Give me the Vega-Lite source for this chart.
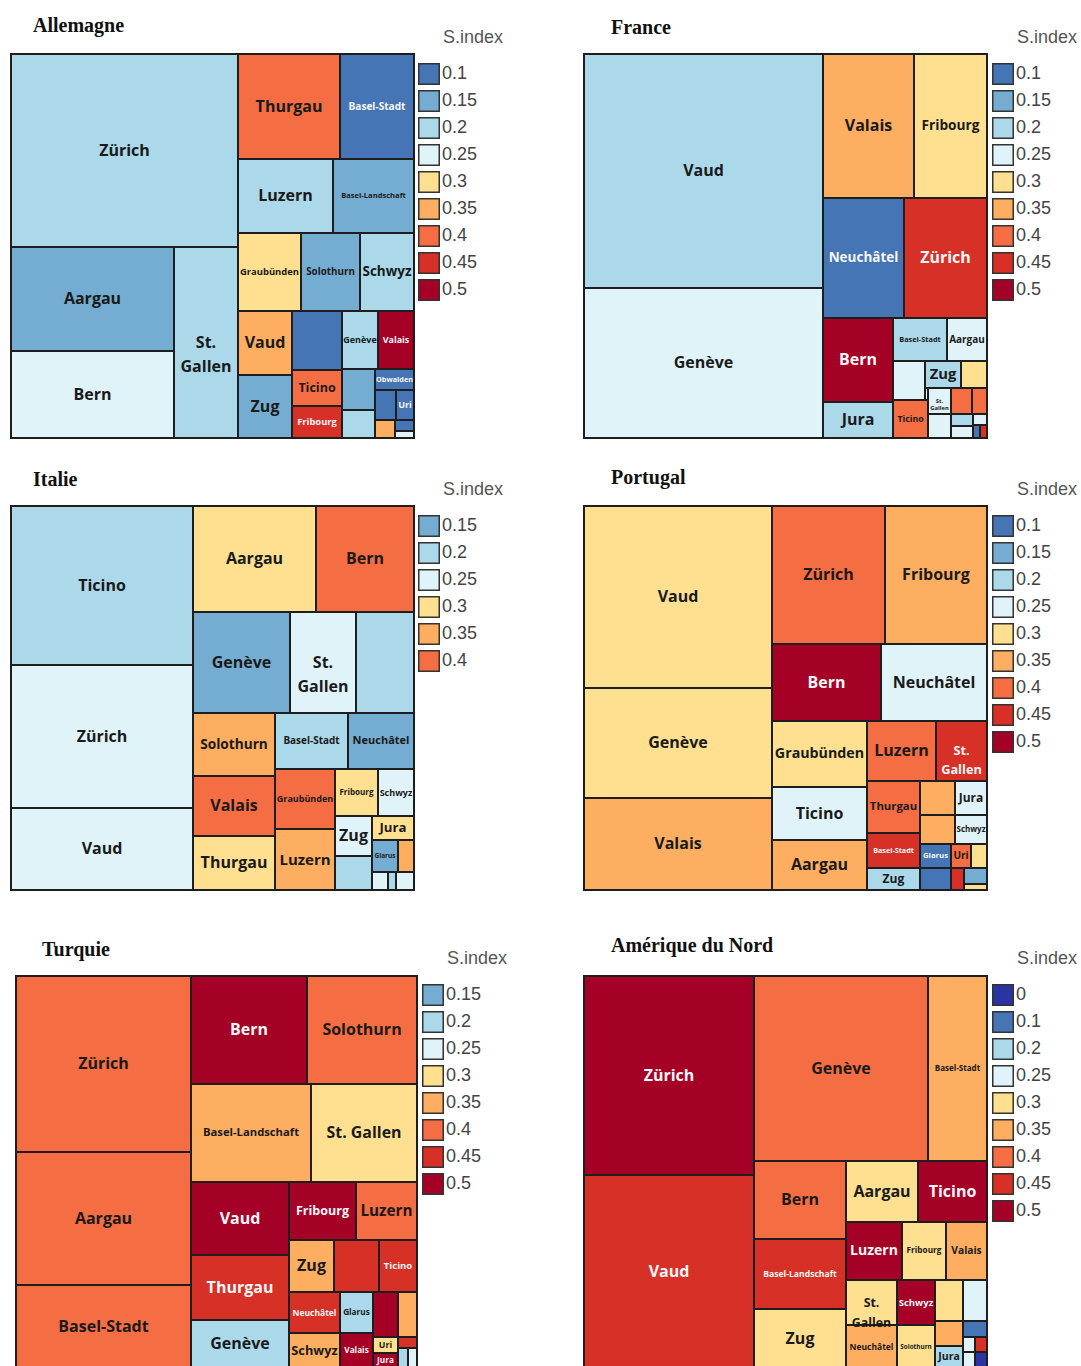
{
"$schema": "https://vega.github.io/schema/vega-lite/v6.json",
"padding": {"left": 10, "top": 16, "right": 5, "bottom": 0},
"datasets": {"tm": [
{"p":"A","n":"Zürich","x0":0,"x1":227,"y0":0,"y1":193,"s":"0.2"},
{"p":"A","n":"Aargau","x0":0,"x1":163,"y0":193,"y1":297,"s":"0.15"},
{"p":"A","n":"Bern","x0":0,"x1":163,"y0":297,"y1":384,"s":"0.25"},
{"p":"A","n":"St.\nGallen","x0":163,"x1":227,"y0":193,"y1":384,"s":"0.2"},
{"p":"A","n":"Thurgau","x0":227,"x1":329,"y0":0,"y1":105,"s":"0.4"},
{"p":"A","n":"Basel-Stadt","x0":329,"x1":403,"y0":0,"y1":105,"s":"0.1"},
{"p":"A","n":"Luzern","x0":227,"x1":322,"y0":105,"y1":179,"s":"0.2"},
{"p":"A","n":"Basel-Landschaft","x0":322,"x1":403,"y0":105,"y1":179,"s":"0.15"},
{"p":"A","n":"Graubünden","x0":227,"x1":290,"y0":179,"y1":257,"s":"0.3"},
{"p":"A","n":"Solothurn","x0":290,"x1":349,"y0":179,"y1":257,"s":"0.15"},
{"p":"A","n":"Schwyz","x0":349,"x1":403,"y0":179,"y1":257,"s":"0.2"},
{"p":"A","n":"Vaud","x0":227,"x1":281,"y0":257,"y1":321,"s":"0.35"},
{"p":"A","n":"Zug","x0":227,"x1":281,"y0":321,"y1":384,"s":"0.15"},
{"p":"A","n":"","x0":281,"x1":331,"y0":257,"y1":316,"s":"0.1"},
{"p":"A","n":"Ticino","x0":281,"x1":331,"y0":316,"y1":352,"s":"0.4"},
{"p":"A","n":"Fribourg","x0":281,"x1":331,"y0":352,"y1":384,"s":"0.45"},
{"p":"A","n":"Genève","x0":331,"x1":367,"y0":257,"y1":315,"s":"0.2"},
{"p":"A","n":"Valais","x0":367,"x1":403,"y0":257,"y1":315,"s":"0.5"},
{"p":"A","n":"","x0":331,"x1":364,"y0":315,"y1":356,"s":"0.15"},
{"p":"A","n":"","x0":331,"x1":364,"y0":356,"y1":384,"s":"0.2"},
{"p":"A","n":"Obwalden","x0":364,"x1":403,"y0":315,"y1":336,"s":"0.1"},
{"p":"A","n":"","x0":364,"x1":385,"y0":336,"y1":366,"s":"0.1"},
{"p":"A","n":"Uri","x0":385,"x1":403,"y0":336,"y1":366,"s":"0.1"},
{"p":"A","n":"","x0":364,"x1":384,"y0":366,"y1":384,"s":"0.35"},
{"p":"A","n":"","x0":384,"x1":403,"y0":366,"y1":377,"s":"0.1"},
{"p":"A","n":"","x0":384,"x1":403,"y0":377,"y1":384,"s":"0.25"},

{"p":"F","n":"Vaud","x0":0,"x1":239,"y0":0,"y1":234,"s":"0.2"},
{"p":"F","n":"Genève","x0":0,"x1":239,"y0":234,"y1":384,"s":"0.25"},
{"p":"F","n":"Valais","x0":239,"x1":330,"y0":0,"y1":144,"s":"0.35"},
{"p":"F","n":"Fribourg","x0":330,"x1":403,"y0":0,"y1":144,"s":"0.3"},
{"p":"F","n":"Neuchâtel","x0":239,"x1":320,"y0":144,"y1":264,"s":"0.1"},
{"p":"F","n":"Zürich","x0":320,"x1":403,"y0":144,"y1":264,"s":"0.45"},
{"p":"F","n":"Bern","x0":239,"x1":309,"y0":264,"y1":348,"s":"0.5"},
{"p":"F","n":"Jura","x0":239,"x1":309,"y0":348,"y1":384,"s":"0.2"},
{"p":"F","n":"Basel-Stadt","x0":309,"x1":363,"y0":264,"y1":307,"s":"0.2"},
{"p":"F","n":"Aargau","x0":363,"x1":403,"y0":264,"y1":307,"s":"0.25"},
{"p":"F","n":"","x0":309,"x1":341,"y0":307,"y1":346,"s":"0.25"},
{"p":"F","n":"Zug","x0":341,"x1":377,"y0":307,"y1":334,"s":"0.2"},
{"p":"F","n":"","x0":377,"x1":403,"y0":307,"y1":334,"s":"0.3"},
{"p":"F","n":"Ticino","x0":309,"x1":344,"y0":346,"y1":384,"s":"0.4"},
{"p":"F","n":"St.\nGallen","x0":344,"x1":367,"y0":334,"y1":360,"s":"0.25"},
{"p":"F","n":"","x0":344,"x1":367,"y0":360,"y1":384,"s":"0.25"},
{"p":"F","n":"","x0":367,"x1":388,"y0":334,"y1":360,"s":"0.4"},
{"p":"F","n":"","x0":388,"x1":403,"y0":334,"y1":360,"s":"0.4"},
{"p":"F","n":"","x0":367,"x1":389,"y0":360,"y1":372,"s":"0.2"},
{"p":"F","n":"","x0":367,"x1":389,"y0":372,"y1":384,"s":"0.25"},
{"p":"F","n":"","x0":389,"x1":403,"y0":360,"y1":371,"s":"0.25"},
{"p":"F","n":"","x0":389,"x1":396,"y0":371,"y1":384,"s":"0.1"},
{"p":"F","n":"","x0":396,"x1":403,"y0":371,"y1":384,"s":"0.45"},

{"p":"I","n":"Ticino","x0":0,"x1":182,"y0":0,"y1":159,"s":"0.2"},
{"p":"I","n":"Zürich","x0":0,"x1":182,"y0":159,"y1":302,"s":"0.25"},
{"p":"I","n":"Vaud","x0":0,"x1":182,"y0":302,"y1":384,"s":"0.25"},
{"p":"I","n":"Aargau","x0":182,"x1":305,"y0":0,"y1":106,"s":"0.3"},
{"p":"I","n":"Bern","x0":305,"x1":403,"y0":0,"y1":106,"s":"0.4"},
{"p":"I","n":"Genève","x0":182,"x1":279,"y0":106,"y1":207,"s":"0.15"},
{"p":"I","n":"St.\nGallen","x0":279,"x1":345,"y0":106,"y1":207,"s":"0.25"},
{"p":"I","n":"","x0":345,"x1":403,"y0":106,"y1":207,"s":"0.2"},
{"p":"I","n":"Solothurn","x0":182,"x1":264,"y0":207,"y1":270,"s":"0.35"},
{"p":"I","n":"Basel-Stadt","x0":264,"x1":337,"y0":207,"y1":263,"s":"0.2"},
{"p":"I","n":"Neuchâtel","x0":337,"x1":403,"y0":207,"y1":263,"s":"0.15"},
{"p":"I","n":"Valais","x0":182,"x1":264,"y0":270,"y1":330,"s":"0.4"},
{"p":"I","n":"Thurgau","x0":182,"x1":264,"y0":330,"y1":384,"s":"0.3"},
{"p":"I","n":"Graubünden","x0":264,"x1":324,"y0":263,"y1":323,"s":"0.4"},
{"p":"I","n":"Luzern","x0":264,"x1":324,"y0":323,"y1":384,"s":"0.35"},
{"p":"I","n":"Fribourg","x0":324,"x1":367,"y0":263,"y1":310,"s":"0.3"},
{"p":"I","n":"Schwyz","x0":367,"x1":403,"y0":263,"y1":310,"s":"0.25"},
{"p":"I","n":"Zug","x0":324,"x1":361,"y0":310,"y1":350,"s":"0.25"},
{"p":"I","n":"","x0":324,"x1":361,"y0":350,"y1":384,"s":"0.2"},
{"p":"I","n":"Jura","x0":361,"x1":403,"y0":310,"y1":334,"s":"0.3"},
{"p":"I","n":"Glarus","x0":361,"x1":387,"y0":334,"y1":366,"s":"0.15"},
{"p":"I","n":"","x0":387,"x1":403,"y0":334,"y1":366,"s":"0.35"},
{"p":"I","n":"","x0":361,"x1":377,"y0":366,"y1":384,"s":"0.25"},
{"p":"I","n":"","x0":377,"x1":385,"y0":366,"y1":384,"s":"0.2"},
{"p":"I","n":"","x0":385,"x1":403,"y0":366,"y1":384,"s":"0.25"},

{"p":"P","n":"Vaud","x0":0,"x1":188,"y0":0,"y1":182,"s":"0.3"},
{"p":"P","n":"Genève","x0":0,"x1":188,"y0":182,"y1":292,"s":"0.3"},
{"p":"P","n":"Valais","x0":0,"x1":188,"y0":292,"y1":384,"s":"0.35"},
{"p":"P","n":"Zürich","x0":188,"x1":301,"y0":0,"y1":138,"s":"0.4"},
{"p":"P","n":"Fribourg","x0":301,"x1":403,"y0":0,"y1":138,"s":"0.35"},
{"p":"P","n":"Bern","x0":188,"x1":297,"y0":138,"y1":215,"s":"0.5"},
{"p":"P","n":"Neuchâtel","x0":297,"x1":403,"y0":138,"y1":215,"s":"0.25"},
{"p":"P","n":"Graubünden","x0":188,"x1":283,"y0":215,"y1":281,"s":"0.3"},
{"p":"P","n":"Ticino","x0":188,"x1":283,"y0":281,"y1":334,"s":"0.25"},
{"p":"P","n":"Aargau","x0":188,"x1":283,"y0":334,"y1":384,"s":"0.35"},
{"p":"P","n":"Luzern","x0":283,"x1":352,"y0":215,"y1":275,"s":"0.4"},
{"p":"P","n":"St.\nGallen","x0":352,"x1":403,"y0":215,"y1":275,"s":"0.45"},
{"p":"P","n":"Thurgau","x0":283,"x1":336,"y0":275,"y1":327,"s":"0.4"},
{"p":"P","n":"Basel-Stadt","x0":283,"x1":336,"y0":327,"y1":362,"s":"0.45"},
{"p":"P","n":"Zug","x0":283,"x1":336,"y0":362,"y1":384,"s":"0.2"},
{"p":"P","n":"","x0":336,"x1":371,"y0":275,"y1":309,"s":"0.35"},
{"p":"P","n":"","x0":336,"x1":371,"y0":309,"y1":338,"s":"0.35"},
{"p":"P","n":"Jura","x0":371,"x1":403,"y0":275,"y1":309,"s":"0.25"},
{"p":"P","n":"Schwyz","x0":371,"x1":403,"y0":309,"y1":338,"s":"0.25"},
{"p":"P","n":"Glarus","x0":336,"x1":367,"y0":338,"y1":362,"s":"0.1"},
{"p":"P","n":"Uri","x0":367,"x1":387,"y0":338,"y1":362,"s":"0.4"},
{"p":"P","n":"","x0":387,"x1":403,"y0":338,"y1":362,"s":"0.3"},
{"p":"P","n":"","x0":336,"x1":367,"y0":362,"y1":384,"s":"0.1"},
{"p":"P","n":"","x0":367,"x1":380,"y0":362,"y1":384,"s":"0.45"},
{"p":"P","n":"","x0":380,"x1":403,"y0":362,"y1":378,"s":"0.15"},
{"p":"P","n":"","x0":380,"x1":403,"y0":378,"y1":384,"s":"0.3"},

{"p":"T","n":"Zürich","x0":0,"x1":175,"y0":0,"y1":176,"s":"0.4"},
{"p":"T","n":"Aargau","x0":0,"x1":175,"y0":176,"y1":309,"s":"0.4"},
{"p":"T","n":"Basel-Stadt","x0":0,"x1":175,"y0":309,"y1":392,"s":"0.4"},
{"p":"T","n":"Bern","x0":175,"x1":291,"y0":0,"y1":108,"s":"0.5"},
{"p":"T","n":"Solothurn","x0":291,"x1":401,"y0":0,"y1":108,"s":"0.4"},
{"p":"T","n":"Basel-Landschaft","x0":175,"x1":295,"y0":108,"y1":206,"s":"0.35"},
{"p":"T","n":"St. Gallen","x0":295,"x1":401,"y0":108,"y1":206,"s":"0.3"},
{"p":"T","n":"Vaud","x0":175,"x1":273,"y0":206,"y1":279,"s":"0.5"},
{"p":"T","n":"Thurgau","x0":175,"x1":273,"y0":279,"y1":344,"s":"0.45"},
{"p":"T","n":"Genève","x0":175,"x1":273,"y0":344,"y1":392,"s":"0.2"},
{"p":"T","n":"Fribourg","x0":273,"x1":340,"y0":206,"y1":264,"s":"0.5"},
{"p":"T","n":"Luzern","x0":340,"x1":401,"y0":206,"y1":264,"s":"0.4"},
{"p":"T","n":"Zug","x0":273,"x1":318,"y0":264,"y1":316,"s":"0.35"},
{"p":"T","n":"","x0":318,"x1":363,"y0":264,"y1":316,"s":"0.45"},
{"p":"T","n":"Ticino","x0":363,"x1":401,"y0":264,"y1":316,"s":"0.45"},
{"p":"T","n":"Neuchâtel","x0":273,"x1":324,"y0":316,"y1":357,"s":"0.45"},
{"p":"T","n":"Glarus","x0":324,"x1":357,"y0":316,"y1":357,"s":"0.2"},
{"p":"T","n":"Schwyz","x0":273,"x1":324,"y0":357,"y1":392,"s":"0.35"},
{"p":"T","n":"Valais","x0":324,"x1":357,"y0":357,"y1":392,"s":"0.5"},
{"p":"T","n":"","x0":357,"x1":382,"y0":316,"y1":361,"s":"0.5"},
{"p":"T","n":"","x0":382,"x1":401,"y0":316,"y1":361,"s":"0.35"},
{"p":"T","n":"Uri","x0":357,"x1":382,"y0":361,"y1":377,"s":"0.3"},
{"p":"T","n":"Jura","x0":357,"x1":382,"y0":377,"y1":392,"s":"0.5"},
{"p":"T","n":"","x0":382,"x1":401,"y0":361,"y1":372,"s":"0.45"},
{"p":"T","n":"","x0":382,"x1":392,"y0":372,"y1":392,"s":"0.2"},
{"p":"T","n":"","x0":392,"x1":401,"y0":372,"y1":392,"s":"0.25"},

{"p":"N","n":"Zürich","x0":0,"x1":170,"y0":0,"y1":199,"s":"0.5"},
{"p":"N","n":"Vaud","x0":0,"x1":170,"y0":199,"y1":392,"s":"0.45"},
{"p":"N","n":"Genève","x0":170,"x1":344,"y0":0,"y1":185,"s":"0.4"},
{"p":"N","n":"Basel-Stadt","x0":344,"x1":403,"y0":0,"y1":185,"s":"0.35"},
{"p":"N","n":"Bern","x0":170,"x1":262,"y0":185,"y1":263,"s":"0.4"},
{"p":"N","n":"Basel-Landschaft","x0":170,"x1":262,"y0":263,"y1":333,"s":"0.45"},
{"p":"N","n":"Zug","x0":170,"x1":262,"y0":333,"y1":392,"s":"0.3"},
{"p":"N","n":"Aargau","x0":262,"x1":334,"y0":185,"y1":246,"s":"0.3"},
{"p":"N","n":"Ticino","x0":334,"x1":403,"y0":185,"y1":246,"s":"0.5"},
{"p":"N","n":"Luzern","x0":262,"x1":318,"y0":246,"y1":304,"s":"0.5"},
{"p":"N","n":"Fribourg","x0":318,"x1":362,"y0":246,"y1":304,"s":"0.3"},
{"p":"N","n":"Valais","x0":362,"x1":403,"y0":246,"y1":304,"s":"0.35"},
{"p":"N","n":"St.\nGallen","x0":262,"x1":313,"y0":304,"y1":349,"s":"0.3"},
{"p":"N","n":"Schwyz","x0":313,"x1":351,"y0":304,"y1":349,"s":"0.5"},
{"p":"N","n":"Neuchâtel","x0":262,"x1":313,"y0":349,"y1":392,"s":"0.35"},
{"p":"N","n":"Solothurn","x0":313,"x1":351,"y0":349,"y1":392,"s":"0.3"},
{"p":"N","n":"","x0":351,"x1":379,"y0":304,"y1":345,"s":"0.3"},
{"p":"N","n":"","x0":379,"x1":403,"y0":304,"y1":345,"s":"0.25"},
{"p":"N","n":"","x0":351,"x1":379,"y0":345,"y1":370,"s":"0.35"},
{"p":"N","n":"Jura","x0":351,"x1":379,"y0":370,"y1":392,"s":"0.2"},
{"p":"N","n":"","x0":379,"x1":403,"y0":345,"y1":361,"s":"0.1"},
{"p":"N","n":"","x0":379,"x1":391,"y0":361,"y1":376,"s":"0.25"},
{"p":"N","n":"","x0":391,"x1":403,"y0":361,"y1":376,"s":"0.45"},
{"p":"N","n":"","x0":379,"x1":391,"y0":376,"y1":392,"s":"0.25"},
{"p":"N","n":"","x0":391,"x1":403,"y0":376,"y1":392,"s":"0"}
]},
"data": {"name": "tm"},
"columns": 2,
"spacing": {"row": 68, "column": 170},
"bounds": "flush",
"resolve": {"scale": {"color": "independent", "x": "independent", "y": "independent"}, "legend": {"color": "independent"}},
"config": {
  "view": {"stroke": null},
  "title": {"anchor": "start", "frame": "group", "font": "Liberation Serif", "fontSize": 20, "fontWeight": "bold", "color": "#111111"},
  "legend": {"orient": "none", "symbolType": "square", "symbolSize": 420, "symbolStrokeColor": "#333333", "symbolStrokeWidth": 1.5, "symbolOpacity": 1, "labelFont": "Liberation Sans", "labelFontSize": 18, "labelColor": "#444444", "labelOffset": 2, "titleFont": "Liberation Sans", "titleFontSize": 18, "titleFontWeight": "normal", "titleColor": "#555555", "titlePadding": 16, "rowPadding": -1, "padding": 0}
},
"concat": [
{
  "width": 403, "height": 384,
  "title": {"text": "Allemagne", "dx": 22, "offset": -7},
  "transform": [{"filter": "datum.p === 'A'"}],
  "layer": [
    {"mark": {"type": "rect", "stroke": "#1e1e1e", "strokeWidth": 2},
     "encoding": {
       "x": {"field": "x0", "type": "quantitative", "scale": {"domain": [0, 403], "nice": false, "zero": false}, "axis": null},
       "x2": {"field": "x1"},
       "y": {"field": "y0", "type": "quantitative", "scale": {"domain": [0, 384], "nice": false, "zero": false, "reverse": true}, "axis": null},
       "y2": {"field": "y1"},
       "color": {"field": "s", "type": "nominal",
         "scale": {"domain": ["0.1","0.15","0.2","0.25","0.3","0.35","0.4","0.45","0.5"], "range": ["#4575b4","#74add1","#abd9e9","#e0f3f8","#fee090","#fdae61","#f46d43","#d73027","#a50026"]},
         "legend": {"title": "\u200b\u00a0\u00a0\u00a0\u00a0\u00a0S.index", "legendX": 407, "legendY": -25}}
     }},
    {"transform": [
       {"filter": "datum.n !== ''"},
       {"calculate": "(datum.x0 + datum.x1) / 2", "as": "cx"},
       {"calculate": "(datum.y0 + datum.y1) / 2", "as": "cy"},
       {"calculate": "indexof(datum.n, '\\n') >= 0 ? 2 : 1", "as": "nl"},
       {"calculate": "datum.nl == 2 ? max(indexof(datum.n, '\\n'), length(datum.n) - indexof(datum.n, '\\n') - 1) : length(datum.n)", "as": "len"},
       {"calculate": "min(16, (datum.x1 - datum.x0) * 0.9 / (0.6 * datum.len), (datum.y1 - datum.y0) * 0.55 / datum.nl)", "as": "fs"}
     ],
     "mark": {"type": "text", "font": "Open Sans", "fontWeight": "bold", "lineBreak": "\n", "lineHeight": 24, "baseline": "middle", "align": "center"},
     "encoding": {
       "x": {"field": "cx", "type": "quantitative"},
       "y": {"field": "cy", "type": "quantitative"},
       "text": {"field": "n"},
       "size": {"field": "fs", "type": "quantitative", "scale": null},
       "color": {"condition": {"test": "indexof(['0','0.1','0.45','0.5'], datum.s) >= 0", "value": "#f7f7f7"}, "value": "#1a1a1a"}
     }}
  ]
},
{
  "width": 403, "height": 384,
  "title": {"text": "France", "dx": 27, "offset": -9},
  "transform": [{"filter": "datum.p === 'F'"}],
  "layer": [
    {"mark": {"type": "rect", "stroke": "#1e1e1e", "strokeWidth": 2},
     "encoding": {
       "x": {"field": "x0", "type": "quantitative", "scale": {"domain": [0, 403], "nice": false, "zero": false}, "axis": null},
       "x2": {"field": "x1"},
       "y": {"field": "y0", "type": "quantitative", "scale": {"domain": [0, 384], "nice": false, "zero": false, "reverse": true}, "axis": null},
       "y2": {"field": "y1"},
       "color": {"field": "s", "type": "nominal",
         "scale": {"domain": ["0.1","0.15","0.2","0.25","0.3","0.35","0.4","0.45","0.5"], "range": ["#4575b4","#74add1","#abd9e9","#e0f3f8","#fee090","#fdae61","#f46d43","#d73027","#a50026"]},
         "legend": {"title": "\u200b\u00a0\u00a0\u00a0\u00a0\u00a0S.index", "legendX": 408, "legendY": -25}}
     }},
    {"transform": [
       {"filter": "datum.n !== ''"},
       {"calculate": "(datum.x0 + datum.x1) / 2", "as": "cx"},
       {"calculate": "(datum.y0 + datum.y1) / 2", "as": "cy"},
       {"calculate": "indexof(datum.n, '\\n') >= 0 ? 2 : 1", "as": "nl"},
       {"calculate": "datum.nl == 2 ? max(indexof(datum.n, '\\n'), length(datum.n) - indexof(datum.n, '\\n') - 1) : length(datum.n)", "as": "len"},
       {"calculate": "min(16, (datum.x1 - datum.x0) * 0.9 / (0.6 * datum.len), (datum.y1 - datum.y0) * 0.55 / datum.nl)", "as": "fs"}
     ],
     "mark": {"type": "text", "font": "Open Sans", "fontWeight": "bold", "lineBreak": "\n", "lineHeight": 7, "baseline": "middle", "align": "center"},
     "encoding": {
       "x": {"field": "cx", "type": "quantitative"},
       "y": {"field": "cy", "type": "quantitative"},
       "text": {"field": "n"},
       "size": {"field": "fs", "type": "quantitative", "scale": null},
       "color": {"condition": {"test": "indexof(['0','0.1','0.45','0.5'], datum.s) >= 0", "value": "#f7f7f7"}, "value": "#1a1a1a"}
     }}
  ]
},
{
  "width": 403, "height": 384,
  "title": {"text": "Italie", "dx": 22, "offset": -9},
  "transform": [{"filter": "datum.p === 'I'"}],
  "layer": [
    {"mark": {"type": "rect", "stroke": "#1e1e1e", "strokeWidth": 2},
     "encoding": {
       "x": {"field": "x0", "type": "quantitative", "scale": {"domain": [0, 403], "nice": false, "zero": false}, "axis": null},
       "x2": {"field": "x1"},
       "y": {"field": "y0", "type": "quantitative", "scale": {"domain": [0, 384], "nice": false, "zero": false, "reverse": true}, "axis": null},
       "y2": {"field": "y1"},
       "color": {"field": "s", "type": "nominal",
         "scale": {"domain": ["0.15","0.2","0.25","0.3","0.35","0.4"], "range": ["#74add1","#abd9e9","#e0f3f8","#fee090","#fdae61","#f46d43"]},
         "legend": {"title": "\u200b\u00a0\u00a0\u00a0\u00a0\u00a0S.index", "legendX": 407, "legendY": -25}}
     }},
    {"transform": [
       {"filter": "datum.n !== ''"},
       {"calculate": "(datum.x0 + datum.x1) / 2", "as": "cx"},
       {"calculate": "(datum.y0 + datum.y1) / 2", "as": "cy"},
       {"calculate": "indexof(datum.n, '\\n') >= 0 ? 2 : 1", "as": "nl"},
       {"calculate": "datum.nl == 2 ? max(indexof(datum.n, '\\n'), length(datum.n) - indexof(datum.n, '\\n') - 1) : length(datum.n)", "as": "len"},
       {"calculate": "min(16, (datum.x1 - datum.x0) * 0.9 / (0.6 * datum.len), (datum.y1 - datum.y0) * 0.55 / datum.nl)", "as": "fs"}
     ],
     "mark": {"type": "text", "font": "Open Sans", "fontWeight": "bold", "lineBreak": "\n", "lineHeight": 24, "baseline": "middle", "align": "center"},
     "encoding": {
       "x": {"field": "cx", "type": "quantitative"},
       "y": {"field": "cy", "type": "quantitative"},
       "text": {"field": "n"},
       "size": {"field": "fs", "type": "quantitative", "scale": null},
       "color": {"condition": {"test": "indexof(['0','0.1','0.45','0.5'], datum.s) >= 0", "value": "#f7f7f7"}, "value": "#1a1a1a"}
     }}
  ]
},
{
  "width": 403, "height": 384,
  "title": {"text": "Portugal", "dx": 27, "offset": -7},
  "transform": [{"filter": "datum.p === 'P'"}],
  "layer": [
    {"mark": {"type": "rect", "stroke": "#1e1e1e", "strokeWidth": 2},
     "encoding": {
       "x": {"field": "x0", "type": "quantitative", "scale": {"domain": [0, 403], "nice": false, "zero": false}, "axis": null},
       "x2": {"field": "x1"},
       "y": {"field": "y0", "type": "quantitative", "scale": {"domain": [0, 384], "nice": false, "zero": false, "reverse": true}, "axis": null},
       "y2": {"field": "y1"},
       "color": {"field": "s", "type": "nominal",
         "scale": {"domain": ["0.1","0.15","0.2","0.25","0.3","0.35","0.4","0.45","0.5"], "range": ["#4575b4","#74add1","#abd9e9","#e0f3f8","#fee090","#fdae61","#f46d43","#d73027","#a50026"]},
         "legend": {"title": "\u200b\u00a0\u00a0\u00a0\u00a0\u00a0S.index", "legendX": 408, "legendY": -25}}
     }},
    {"transform": [
       {"filter": "datum.n !== ''"},
       {"calculate": "(datum.x0 + datum.x1) / 2", "as": "cx"},
       {"calculate": "(datum.y0 + datum.y1) / 2", "as": "cy"},
       {"calculate": "indexof(datum.n, '\\n') >= 0 ? 2 : 1", "as": "nl"},
       {"calculate": "datum.nl == 2 ? max(indexof(datum.n, '\\n'), length(datum.n) - indexof(datum.n, '\\n') - 1) : length(datum.n)", "as": "len"},
       {"calculate": "min(16, (datum.x1 - datum.x0) * 0.9 / (0.6 * datum.len), (datum.y1 - datum.y0) * 0.55 / datum.nl)", "as": "fs"}
     ],
     "mark": {"type": "text", "font": "Open Sans", "fontWeight": "bold", "lineBreak": "\n", "lineHeight": 19, "baseline": "middle", "align": "center"},
     "encoding": {
       "x": {"field": "cx", "type": "quantitative"},
       "y": {"field": "cy", "type": "quantitative"},
       "text": {"field": "n"},
       "size": {"field": "fs", "type": "quantitative", "scale": null},
       "color": {"condition": {"test": "indexof(['0','0.1','0.45','0.5'], datum.s) >= 0", "value": "#f7f7f7"}, "value": "#1a1a1a"}
     }}
  ]
},
{
  "width": 403, "height": 410,
  "title": {"text": "Turquie", "dx": 31, "offset": -10},
  "transform": [{"filter": "datum.p === 'T'"}],
  "layer": [
    {"mark": {"type": "rect", "stroke": "#1e1e1e", "strokeWidth": 2},
     "encoding": {
       "x": {"field": "x0", "type": "quantitative", "scale": {"domain": [-5, 398], "nice": false, "zero": false}, "axis": null},
       "x2": {"field": "x1"},
       "y": {"field": "y0", "type": "quantitative", "scale": {"domain": [-18, 392], "nice": false, "zero": false, "reverse": true}, "axis": null},
       "y2": {"field": "y1"},
       "color": {"field": "s", "type": "nominal",
         "scale": {"domain": ["0.15","0.2","0.25","0.3","0.35","0.4","0.45","0.5"], "range": ["#74add1","#abd9e9","#e0f3f8","#fee090","#fdae61","#f46d43","#d73027","#a50026"]},
         "legend": {"title": "\u200b\u00a0\u00a0\u00a0\u00a0\u00a0S.index", "legendX": 411, "legendY": -8}}
     }},
    {"transform": [
       {"filter": "datum.n !== ''"},
       {"calculate": "(datum.x0 + datum.x1) / 2", "as": "cx"},
       {"calculate": "(datum.y0 + datum.y1) / 2", "as": "cy"},
       {"calculate": "indexof(datum.n, '\\n') >= 0 ? 2 : 1", "as": "nl"},
       {"calculate": "datum.nl == 2 ? max(indexof(datum.n, '\\n'), length(datum.n) - indexof(datum.n, '\\n') - 1) : length(datum.n)", "as": "len"},
       {"calculate": "min(16, (datum.x1 - datum.x0) * 0.9 / (0.6 * datum.len), (datum.y1 - datum.y0) * 0.55 / datum.nl)", "as": "fs"}
     ],
     "mark": {"type": "text", "font": "Open Sans", "fontWeight": "bold", "lineBreak": "\n", "baseline": "middle", "align": "center"},
     "encoding": {
       "x": {"field": "cx", "type": "quantitative"},
       "y": {"field": "cy", "type": "quantitative"},
       "text": {"field": "n"},
       "size": {"field": "fs", "type": "quantitative", "scale": null},
       "color": {"condition": {"test": "indexof(['0','0.1','0.45','0.5'], datum.s) >= 0", "value": "#f7f7f7"}, "value": "#1a1a1a"}
     }}
  ]
},
{
  "width": 403, "height": 410,
  "title": {"text": "Amérique du Nord", "dx": 27, "offset": -6},
  "transform": [{"filter": "datum.p === 'N'"}],
  "layer": [
    {"mark": {"type": "rect", "stroke": "#1e1e1e", "strokeWidth": 2},
     "encoding": {
       "x": {"field": "x0", "type": "quantitative", "scale": {"domain": [0, 403], "nice": false, "zero": false}, "axis": null},
       "x2": {"field": "x1"},
       "y": {"field": "y0", "type": "quantitative", "scale": {"domain": [-18, 392], "nice": false, "zero": false, "reverse": true}, "axis": null},
       "y2": {"field": "y1"},
       "color": {"field": "s", "type": "nominal",
         "scale": {"domain": ["0","0.1","0.2","0.25","0.3","0.35","0.4","0.45","0.5"], "range": ["#2b35a1","#4575b4","#abd9e9","#e0f3f8","#fee090","#fdae61","#f46d43","#d73027","#a50026"]},
         "legend": {"title": "\u200b\u00a0\u00a0\u00a0\u00a0\u00a0S.index", "legendX": 408, "legendY": -8}}
     }},
    {"transform": [
       {"filter": "datum.n !== ''"},
       {"calculate": "(datum.x0 + datum.x1) / 2", "as": "cx"},
       {"calculate": "(datum.y0 + datum.y1) / 2", "as": "cy"},
       {"calculate": "indexof(datum.n, '\\n') >= 0 ? 2 : 1", "as": "nl"},
       {"calculate": "datum.nl == 2 ? max(indexof(datum.n, '\\n'), length(datum.n) - indexof(datum.n, '\\n') - 1) : length(datum.n)", "as": "len"},
       {"calculate": "min(16, (datum.x1 - datum.x0) * 0.9 / (0.6 * datum.len), (datum.y1 - datum.y0) * 0.55 / datum.nl)", "as": "fs"}
     ],
     "mark": {"type": "text", "font": "Open Sans", "fontWeight": "bold", "lineBreak": "\n", "lineHeight": 20, "baseline": "middle", "align": "center"},
     "encoding": {
       "x": {"field": "cx", "type": "quantitative"},
       "y": {"field": "cy", "type": "quantitative"},
       "text": {"field": "n"},
       "size": {"field": "fs", "type": "quantitative", "scale": null},
       "color": {"condition": {"test": "indexof(['0','0.1','0.45','0.5'], datum.s) >= 0", "value": "#f7f7f7"}, "value": "#1a1a1a"}
     }}
  ]
}
]
}
